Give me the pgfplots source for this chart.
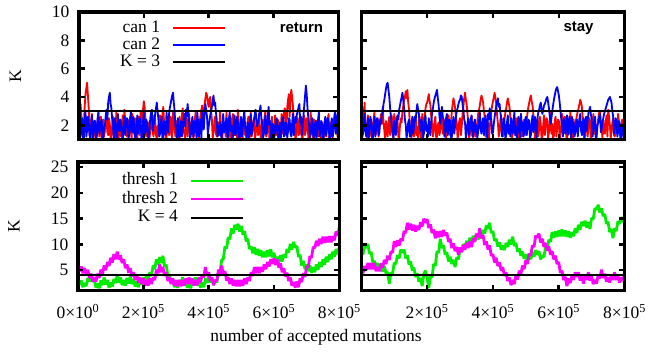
\documentclass[border=0pt]{standalone}
\usepackage{fontspec}
\setmainfont{Liberation Serif}
\newfontfamily\lsans{Liberation Sans}
\usepackage{pgfplots}
\usepackage{pgfplotstable}
\pgfplotsset{compat=1.18}
\newcommand\fs{\fontsize{17.5bp}{21bp}\selectfont}
\definecolor{cred}{rgb}{1,0,0}
\definecolor{cblue}{rgb}{0,0,1}
\definecolor{cgreen}{rgb}{0,0.93,0}
\definecolor{cmag}{rgb}{1,0,1}

% top-left (return): can 1, can 2  (step 2500)
\pgfplotstableread[row sep=\\]{y\\
2.5\\1.4\\3.5\\2.6\\1.2\\1.9\\2.0\\3.3\\4.2\\4.6\\5.0\\4.1\\3.2\\1.3\\1.5\\2.4\\2.8\\1.0\\1.1\\1.8\\
2.2\\1.1\\1.4\\2.3\\2.9\\1.2\\1.8\\2.6\\1.0\\1.7\\2.4\\1.2\\1.6\\2.2\\3.0\\1.5\\1.3\\2.5\\2.1\\1.0\\
1.1\\2.0\\2.6\\1.3\\1.9\\1.1\\2.9\\2.2\\1.5\\1.0\\2.3\\1.6\\1.2\\2.1\\2.7\\1.4\\3.1\\2.4\\1.8\\1.2\\
2.4\\1.5\\1.2\\2.6\\2.0\\1.1\\2.8\\1.7\\1.4\\2.5\\1.9\\1.0\\1.1\\2.2\\2.6\\1.3\\3.0\\2.7\\2.2\\3.1\\
3.7\\3.3\\2.5\\1.2\\1.3\\2.0\\2.2\\1.1\\1.6\\2.4\\2.9\\1.5\\1.2\\2.7\\2.4\\1.3\\1.0\\1.9\\2.0\\1.2\\
2.7\\1.4\\1.5\\2.8\\3.3\\2.2\\1.8\\1.0\\1.1\\2.1\\2.5\\1.3\\2.0\\2.6\\1.3\\1.1\\2.9\\2.3\\1.7\\1.2\\
2.3\\1.5\\1.0\\2.0\\2.6\\1.2\\1.9\\2.7\\3.2\\1.6\\1.4\\1.1\\2.1\\2.5\\1.2\\1.9\\2.8\\1.3\\1.6\\2.2\\
2.5\\1.1\\1.3\\2.4\\3.0\\1.5\\2.0\\1.2\\1.1\\2.3\\2.7\\3.1\\3.4\\2.8\\2.2\\3.5\\3.9\\4.3\\4.1\\3.6\\
3.3\\3.8\\4.0\\3.0\\2.4\\1.1\\1.5\\2.2\\2.6\\1.4\\1.2\\1.9\\2.2\\1.3\\3.0\\2.1\\1.4\\1.0\\2.5\\1.6\\
1.8\\1.2\\2.9\\2.0\\1.1\\1.7\\2.3\\1.0\\1.6\\2.5\\2.8\\1.4\\1.3\\2.2\\2.0\\1.1\\3.1\\2.4\\1.5\\1.1\\
2.4\\1.6\\1.1\\2.2\\2.7\\1.3\\1.8\\1.0\\2.2\\2.6\\1.0\\1.5\\2.9\\1.2\\1.6\\2.3\\2.5\\1.1\\1.3\\2.0\\
2.1\\1.3\\2.8\\2.1\\1.2\\1.0\\2.4\\1.5\\1.7\\2.6\\3.0\\1.2\\1.4\\2.0\\2.2\\1.1\\1.1\\1.8\\2.6\\1.4\\
1.9\\1.2\\2.7\\2.0\\1.3\\2.4\\2.3\\1.1\\1.0\\1.7\\2.8\\1.4\\2.1\\2.9\\3.2\\2.5\\1.5\\3.3\\3.8\\4.2\\
2.6\\3.9\\4.5\\4.0\\3.4\\2.3\\1.8\\1.1\\1.2\\2.2\\2.5\\1.3\\1.4\\2.4\\2.0\\1.0\\1.1\\1.9\\2.7\\1.3\\
1.6\\2.5\\2.3\\1.1\\1.2\\2.0\\2.9\\1.4\\1.8\\1.0\\2.4\\1.7\\1.3\\2.3\\2.1\\1.2\\2.6\\1.9\\1.5\\1.0\\
2.2\\1.3\\1.1\\2.0\\2.5\\1.2\\1.7\\2.4\\2.8\\1.1\\1.4\\2.2\\2.3\\1.0\\1.9\\2.6\\3.0\\1.5\\2.0\\1.2\\
2.8\\}\tlred
\pgfplotstableread[row sep=\\]{y\\
2.8\\1.7\\1.3\\2.2\\2.5\\1.0\\1.1\\2.4\\3.0\\1.2\\1.6\\2.6\\2.2\\1.3\\1.0\\2.0\\2.7\\1.1\\1.5\\2.3\\
2.3\\1.0\\1.2\\2.5\\2.9\\1.4\\1.7\\2.2\\2.4\\1.0\\1.1\\1.9\\2.0\\2.7\\3.1\\2.4\\3.6\\4.0\\4.3\\3.5\\
3.2\\2.4\\1.8\\1.1\\2.5\\2.0\\1.3\\1.0\\2.8\\1.9\\1.6\\2.4\\2.2\\1.2\\1.0\\1.8\\2.6\\1.3\\1.9\\2.5\\
2.4\\1.1\\1.3\\2.2\\3.0\\1.6\\1.5\\2.6\\2.1\\1.0\\1.1\\2.0\\2.7\\1.4\\1.8\\2.5\\2.3\\1.1\\1.2\\2.2\\
2.9\\1.3\\1.6\\2.4\\2.2\\1.2\\1.0\\1.8\\2.5\\2.9\\3.1\\1.6\\2.0\\2.3\\2.8\\3.2\\3.6\\3.0\\2.4\\1.2\\
1.4\\2.1\\2.6\\1.0\\1.2\\2.3\\2.0\\1.3\\2.9\\2.2\\1.5\\2.7\\3.2\\3.5\\3.8\\4.1\\4.3\\3.6\\3.0\\1.9\\
1.8\\1.1\\2.5\\1.7\\1.1\\2.0\\2.3\\1.2\\1.6\\2.4\\2.8\\1.9\\3.1\\2.6\\3.5\\2.9\\2.2\\1.0\\1.3\\2.1\\
2.6\\1.2\\1.5\\2.3\\2.0\\1.1\\2.9\\2.2\\1.2\\1.9\\2.4\\1.0\\2.9\\2.3\\1.7\\2.8\\3.5\\3.0\\2.6\\1.4\\
1.9\\2.3\\2.7\\3.0\\3.3\\3.8\\4.1\\3.4\\3.6\\2.9\\2.4\\1.2\\1.4\\2.0\\2.2\\1.3\\1.1\\2.1\\2.8\\1.5\\
1.6\\2.2\\2.5\\1.1\\1.3\\2.4\\2.9\\1.6\\2.0\\1.0\\1.2\\2.1\\2.7\\1.3\\1.5\\2.6\\2.3\\1.2\\1.0\\1.9\\
2.6\\1.2\\1.8\\2.5\\3.0\\1.9\\1.4\\1.0\\2.2\\2.0\\1.1\\2.3\\2.8\\1.3\\1.7\\2.1\\2.4\\2.8\\3.1\\2.0\\
1.9\\2.2\\2.6\\3.0\\3.4\\2.5\\2.1\\1.1\\1.3\\2.0\\2.7\\1.4\\1.6\\2.6\\3.3\\2.0\\2.3\\1.0\\1.2\\2.1\\
2.0\\1.1\\1.5\\2.3\\2.5\\1.4\\1.1\\1.9\\2.2\\1.0\\1.7\\2.4\\2.6\\1.2\\1.3\\2.2\\2.0\\1.1\\1.6\\2.5\\
2.4\\1.4\\1.2\\2.1\\2.8\\1.3\\1.8\\2.6\\2.2\\2.8\\3.0\\3.3\\3.5\\2.2\\2.6\\1.3\\1.9\\2.7\\3.4\\4.1\\
4.8\\4.2\\3.2\\2.5\\2.0\\1.1\\1.4\\2.2\\2.5\\1.3\\1.1\\2.0\\2.3\\1.0\\1.7\\2.4\\2.9\\1.2\\1.5\\2.3\\
2.1\\1.0\\1.2\\2.2\\2.6\\1.3\\1.8\\2.5\\2.2\\1.1\\1.0\\1.9\\2.5\\1.2\\1.6\\2.3\\2.9\\1.4\\2.4\\2.7\\
3.0\\}\tlblue
% top-right (stay)
\pgfplotstableread[row sep=\\]{y\\
2.4\\2.9\\3.2\\2.5\\3.6\\2.0\\1.5\\1.1\\2.7\\1.9\\1.2\\2.4\\2.2\\1.0\\1.8\\2.5\\2.9\\1.3\\1.4\\2.1\\
2.5\\1.2\\1.9\\2.4\\2.8\\2.1\\3.3\\2.2\\1.6\\1.0\\2.3\\1.5\\1.2\\2.2\\2.6\\1.3\\2.0\\2.7\\1.4\\1.1\\
2.8\\1.4\\1.7\\2.6\\2.3\\1.2\\1.1\\2.0\\2.5\\2.2\\3.0\\3.4\\3.8\\4.0\\4.4\\3.9\\4.5\\3.6\\3.1\\2.0\\
1.6\\1.1\\2.4\\1.5\\1.2\\2.2\\2.7\\1.3\\1.9\\1.0\\2.3\\2.6\\1.3\\1.0\\2.8\\1.6\\2.0\\2.6\\3.2\\3.5\\
3.6\\3.9\\4.2\\3.7\\3.4\\2.6\\2.1\\1.2\\1.5\\2.3\\2.6\\1.1\\1.2\\2.0\\2.2\\1.3\\1.7\\2.5\\2.9\\1.4\\
1.4\\1.9\\2.4\\1.1\\1.8\\2.3\\2.7\\1.4\\1.3\\2.2\\3.0\\3.5\\3.9\\3.6\\3.2\\2.6\\2.2\\1.0\\1.6\\2.3\\
2.5\\1.3\\1.9\\2.8\\3.3\\3.9\\4.3\\3.8\\3.5\\2.8\\2.0\\1.1\\1.4\\2.2\\2.6\\1.5\\1.1\\1.8\\2.3\\1.2\\
1.7\\2.3\\2.8\\3.1\\3.4\\3.8\\4.1\\3.9\\3.6\\3.0\\2.5\\1.2\\1.3\\2.0\\2.2\\1.0\\1.8\\2.4\\3.0\\3.4\\
3.7\\4.0\\4.3\\3.9\\3.5\\2.7\\2.1\\1.2\\1.5\\2.4\\2.7\\1.3\\1.2\\2.0\\2.4\\2.9\\3.2\\3.6\\3.9\\3.6\\
3.3\\2.6\\2.0\\1.1\\1.4\\2.2\\2.6\\1.3\\1.8\\2.5\\2.3\\1.0\\1.1\\1.9\\2.8\\1.2\\1.6\\2.3\\2.4\\1.3\\
1.9\\2.4\\2.9\\3.3\\3.6\\3.9\\4.1\\3.7\\3.4\\2.8\\2.2\\1.0\\1.3\\2.0\\2.5\\1.2\\1.7\\2.6\\2.1\\1.1\\
1.2\\2.0\\2.7\\1.3\\1.9\\2.5\\2.4\\1.1\\1.5\\2.2\\2.9\\1.4\\2.1\\1.0\\1.3\\2.3\\2.6\\1.2\\1.8\\2.4\\
2.3\\1.0\\1.4\\2.1\\2.8\\1.3\\1.7\\2.6\\2.5\\1.2\\1.1\\2.0\\2.2\\1.4\\2.9\\2.2\\1.6\\1.1\\2.4\\1.5\\
1.9\\2.4\\2.7\\3.0\\3.2\\3.5\\3.8\\3.6\\3.3\\2.5\\2.0\\1.1\\1.3\\2.2\\2.6\\1.2\\1.8\\2.5\\2.3\\1.0\\
1.5\\2.3\\2.8\\1.4\\2.1\\1.0\\1.2\\2.2\\2.5\\2.9\\3.0\\2.1\\1.7\\1.1\\2.4\\1.6\\1.4\\2.3\\2.7\\1.2\\
3.1\\2.6\\2.0\\1.1\\1.6\\2.2\\2.5\\1.3\\1.2\\2.0\\2.3\\1.4\\2.8\\2.2\\1.5\\1.0\\2.1\\2.4\\1.3\\1.6\\
2.0\\}\trred
\pgfplotstableread[row sep=\\]{y\\
2.2\\1.1\\1.4\\2.3\\2.8\\1.5\\1.2\\2.0\\2.5\\1.1\\1.7\\2.6\\2.3\\1.3\\1.1\\1.9\\2.6\\1.2\\1.8\\2.5\\
2.4\\1.3\\1.5\\2.4\\2.1\\2.7\\3.0\\3.5\\3.8\\4.2\\4.6\\4.9\\5.0\\4.5\\4.0\\3.2\\2.6\\1.9\\1.6\\1.1\\
2.3\\1.8\\1.3\\2.2\\2.7\\2.4\\3.1\\3.4\\3.7\\4.0\\4.3\\3.8\\3.2\\2.4\\2.0\\1.1\\1.5\\2.2\\2.4\\1.2\\
1.2\\2.1\\2.6\\1.4\\1.9\\2.6\\2.3\\3.0\\3.5\\3.1\\2.8\\1.9\\1.6\\2.4\\2.2\\1.1\\1.4\\2.3\\2.7\\1.6\\
2.0\\1.2\\2.5\\1.9\\1.3\\2.2\\2.9\\3.2\\3.6\\3.9\\4.1\\4.3\\4.5\\3.9\\3.4\\2.6\\2.1\\2.8\\3.3\\2.6\\
2.4\\1.2\\1.5\\2.5\\2.8\\1.3\\1.7\\2.4\\2.3\\1.0\\1.2\\2.1\\2.6\\1.4\\2.0\\2.6\\3.0\\3.2\\3.5\\3.7\\
3.8\\4.1\\4.0\\3.5\\3.1\\2.4\\2.2\\1.1\\1.4\\2.1\\2.5\\1.3\\1.8\\2.4\\2.7\\1.2\\1.3\\2.2\\2.4\\1.5\\
2.0\\1.1\\1.6\\2.3\\2.9\\1.7\\1.4\\2.2\\2.5\\1.3\\2.1\\2.7\\1.7\\1.1\\2.8\\2.4\\3.2\\2.7\\2.3\\1.4\\
1.5\\2.1\\2.6\\3.0\\3.4\\3.7\\3.9\\3.3\\3.5\\2.9\\2.4\\1.2\\1.8\\2.5\\2.2\\1.0\\1.3\\2.2\\2.7\\1.4\\
2.0\\1.2\\2.5\\1.9\\1.4\\2.4\\2.9\\1.3\\1.9\\1.0\\2.3\\2.6\\1.6\\1.1\\2.8\\1.7\\2.2\\1.2\\1.5\\2.4\\
2.6\\1.3\\1.8\\2.4\\2.3\\1.1\\1.3\\2.2\\2.7\\1.5\\2.0\\2.6\\1.6\\1.1\\2.5\\2.9\\3.1\\3.4\\3.6\\3.1\\
2.8\\3.1\\3.4\\3.5\\3.7\\3.9\\4.0\\3.6\\3.2\\2.6\\2.1\\2.5\\3.0\\3.4\\3.8\\4.1\\4.4\\4.6\\4.7\\4.4\\
4.1\\3.6\\3.0\\2.4\\1.9\\1.2\\2.5\\1.8\\1.4\\2.3\\2.7\\1.3\\2.0\\2.6\\1.7\\1.1\\2.6\\1.5\\2.2\\1.2\\
1.5\\2.2\\2.4\\1.2\\1.9\\2.5\\2.8\\1.6\\1.3\\2.2\\2.5\\1.1\\2.1\\2.6\\1.6\\2.3\\2.9\\3.1\\3.3\\2.7\\
2.4\\1.2\\1.8\\2.3\\2.6\\1.1\\1.4\\2.0\\2.2\\2.6\\2.8\\1.5\\1.7\\2.3\\2.5\\2.8\\3.0\\3.2\\3.4\\3.6\\
3.8\\3.9\\4.0\\3.8\\3.6\\3.0\\2.6\\1.4\\1.9\\2.5\\2.3\\1.2\\1.5\\2.3\\2.1\\1.0\\1.2\\2.0\\1.8\\1.1\\
2.3\\}\trblue
% bottom-left (return): thresh 1, thresh 2  (step 5000)
\pgfplotstableread[row sep=\\]{y\\
3.4\\2.2\\3.0\\1.7\\2.5\\1.9\\3.5\\2.8\\4.3\\2.7\\
3.3\\1.6\\2.4\\1.5\\3.0\\2.1\\3.6\\2.2\\3.1\\1.6\\
2.6\\1.8\\3.3\\2.5\\4.1\\2.6\\3.6\\2.1\\3.1\\2.0\\
3.5\\2.4\\3.8\\2.3\\3.3\\1.8\\2.8\\1.7\\3.2\\2.2\\
3.6\\2.6\\4.1\\3.1\\4.6\\3.9\\5.9\\5.2\\7.1\\6.0\\
7.5\\6.4\\7.8\\5.7\\6.1\\3.9\\4.1\\2.5\\3.3\\1.7\\
2.6\\1.6\\3.1\\2.1\\3.6\\2.0\\3.1\\1.6\\2.6\\1.5\\
3.1\\2.1\\3.6\\2.0\\3.1\\1.6\\2.6\\1.7\\3.4\\2.5\\
4.1\\2.6\\3.6\\2.1\\3.1\\2.6\\4.5\\4.8\\7.0\\7.2\\
9.6\\9.2\\11.4\\11.0\\13.1\\12.1\\13.8\\12.9\\14.0\\12.5\\
13.6\\11.9\\12.6\\10.6\\11.1\\9.1\\9.6\\8.3\\9.4\\8.0\\
9.1\\7.8\\8.9\\7.5\\8.6\\7.5\\8.9\\7.7\\9.1\\7.5\\
8.4\\6.8\\7.6\\6.5\\7.9\\6.7\\8.1\\7.4\\9.1\\8.4\\
10.1\\9.0\\10.5\\9.4\\9.7\\7.6\\8.0\\5.9\\6.8\\5.2\\
6.1\\4.8\\5.9\\4.5\\5.6\\4.6\\6.1\\5.1\\6.6\\5.6\\
7.1\\6.1\\7.6\\6.6\\8.1\\7.1\\8.6\\7.6\\9.1\\8.1\\
9.6\\}\blgreen
\pgfplotstableread[row sep=\\]{y\\
5.9\\4.8\\5.7\\4.4\\5.4\\4.1\\5.1\\3.5\\4.3\\2.8\\
3.6\\2.8\\4.3\\3.5\\5.1\\4.3\\5.9\\5.0\\6.6\\5.8\\
7.4\\6.5\\8.1\\7.1\\8.6\\7.1\\7.9\\6.4\\7.1\\5.4\\
6.1\\4.5\\5.4\\3.8\\4.6\\3.1\\4.1\\2.6\\3.6\\2.3\\
3.4\\2.0\\3.1\\2.0\\3.4\\2.3\\3.6\\3.1\\5.1\\4.4\\
6.1\\4.6\\5.6\\3.9\\4.6\\2.9\\3.6\\2.3\\3.4\\2.0\\
3.1\\1.9\\3.1\\1.9\\3.1\\2.0\\3.4\\2.3\\3.6\\2.3\\
3.4\\2.0\\3.1\\2.1\\3.6\\2.6\\4.1\\3.6\\5.6\\3.9\\
4.6\\2.9\\3.6\\2.1\\3.1\\2.9\\5.1\\4.3\\5.9\\4.1\\
4.8\\3.0\\3.6\\2.3\\3.4\\2.0\\3.1\\1.9\\3.1\\1.9\\
3.1\\2.0\\3.4\\2.3\\3.6\\2.9\\4.6\\3.9\\5.6\\4.4\\
5.6\\4.4\\5.6\\4.7\\6.1\\5.2\\6.6\\5.7\\7.1\\6.2\\
7.3\\6.0\\7.1\\5.5\\6.3\\4.6\\5.4\\3.8\\4.5\\2.9\\
3.6\\2.0\\2.7\\1.6\\2.8\\1.7\\3.4\\2.7\\4.4\\3.7\\
5.8\\5.5\\7.7\\7.4\\9.5\\9.3\\10.7\\9.7\\11.1\\10.1\\
11.5\\10.3\\11.5\\10.4\\11.6\\10.4\\11.6\\10.8\\12.5\\11.7\\
13.3\\}\blmag
% bottom-right (stay)
\pgfplotstableread[row sep=\\]{y\\
8.5\\8.0\\9.8\\9.3\\10.1\\8.2\\8.5\\6.5\\6.8\\5.4\\
6.4\\5.1\\6.1\\4.7\\5.8\\4.4\\4.6\\2.4\\4.5\\4.3\\
6.4\\6.2\\7.9\\7.3\\9.0\\8.4\\9.0\\7.3\\7.9\\6.1\\
6.7\\4.9\\5.5\\3.7\\4.4\\2.8\\3.5\\1.9\\4.3\\4.9\\
3.6\\1.5\\3.8\\3.6\\6.2\\5.9\\8.6\\8.4\\11.1\\9.3\\
9.8\\8.0\\8.5\\6.7\\7.6\\6.2\\7.0\\5.6\\7.5\\7.1\\
9.0\\8.6\\10.1\\9.2\\10.7\\9.8\\11.3\\10.4\\11.7\\10.7\\
12.0\\10.9\\12.3\\11.2\\12.8\\12.1\\13.7\\13.0\\14.2\\12.2\\
12.6\\10.7\\11.1\\9.6\\10.4\\9.0\\9.8\\8.9\\10.3\\9.5\\
10.9\\10.0\\11.5\\9.7\\10.3\\8.6\\9.2\\7.8\\8.6\\7.2\\
8.1\\6.7\\8.1\\7.1\\8.5\\7.6\\8.9\\8.0\\8.7\\7.1\\
7.9\\7.5\\9.4\\9.0\\10.9\\10.5\\12.4\\11.3\\12.5\\11.5\\
12.7\\11.6\\12.9\\11.6\\12.7\\11.5\\12.5\\11.3\\12.4\\11.6\\
13.1\\12.2\\13.8\\12.9\\14.4\\13.6\\14.6\\13.3\\14.3\\13.0\\
15.1\\14.9\\17.0\\16.8\\17.7\\16.2\\17.0\\15.5\\15.9\\14.0\\
14.4\\12.4\\13.0\\11.2\\13.1\\12.6\\14.5\\14.0\\15.3\\14.3\\
15.6\\}\brgreen
\pgfplotstableread[row sep=\\]{y\\
5.0\\4.4\\5.8\\5.0\\6.4\\5.2\\6.4\\5.2\\6.4\\4.8\\
5.6\\4.8\\6.3\\5.5\\7.0\\6.2\\7.8\\7.0\\8.6\\8.4\\
10.6\\9.5\\10.8\\9.8\\11.1\\10.7\\12.6\\12.2\\14.2\\12.9\\
14.0\\12.7\\13.8\\12.5\\13.6\\12.8\\14.3\\13.5\\15.0\\14.2\\
14.9\\13.2\\13.9\\12.2\\12.9\\11.2\\12.5\\11.4\\12.6\\11.5\\
12.8\\11.7\\12.3\\10.5\\11.1\\9.3\\10.2\\8.7\\9.5\\8.0\\
9.4\\8.5\\9.9\\9.0\\10.3\\9.3\\10.6\\9.5\\11.2\\10.5\\
12.1\\11.4\\13.1\\11.2\\11.8\\9.9\\10.6\\9.0\\9.8\\7.8\\
8.1\\6.5\\7.4\\5.8\\6.5\\4.9\\5.6\\3.9\\4.6\\2.9\\
3.6\\2.1\\3.1\\2.3\\4.0\\3.2\\4.9\\4.2\\5.9\\5.2\\
6.9\\6.2\\8.2\\7.8\\9.8\\9.5\\11.7\\11.4\\12.1\\10.4\\
11.1\\9.5\\10.3\\8.8\\9.6\\8.0\\8.7\\7.1\\7.8\\6.2\\
6.6\\4.5\\4.9\\3.1\\3.7\\1.9\\3.4\\2.5\\4.0\\3.1\\
4.6\\3.7\\4.6\\3.0\\3.9\\2.4\\3.9\\3.1\\4.6\\3.0\\
3.8\\2.3\\3.1\\2.4\\4.1\\3.4\\5.1\\3.5\\4.3\\2.8\\
3.6\\2.6\\4.1\\3.1\\4.6\\3.1\\4.1\\2.6\\3.6\\2.9\\
4.6\\}\brmag

\pgfplotsset{
  panel/.style={
    scale only axis, axis on top,
    xmin=0, xmax=800000, scaled x ticks=false,
    xtick={0,200000,400000,600000,800000},
    axis line style={line width=3.2bp},
    tick style={black, line width=2.6bp},
    major tick length=5.5bp,
    tick label style={font=\fs},
    label style={font=\fs},
    xticklabel style={yshift=-10bp},
    yticklabel style={xshift=-6bp},
    /pgf/number format/assume math mode=true,
    legend style={draw=none, fill=none, inner sep=0pt, font=\fs,
      /tikz/column sep=12bp,
      nodes={inner sep=0.5bp, text height=12bp, text depth=4bp}},
    legend plot pos=right,
    legend cell align=right,
    legend image code/.code={\draw[##1, line width=1.8bp] (0bp,0bp) -- (52bp,0bp);},
  },
  toprow/.style={ymin=1, ymax=10, ytick={2,4,6,8,10}, height=127.4bp, xticklabels=\empty},
  botrow/.style={ymin=1, ymax=26, ytick={5,10,15,20,25}, height=128.8bp},
}

\begin{document}
\begin{tikzpicture}
% ---------- top left ----------
\begin{axis}[panel, toprow, at={(79bp,212.6bp)}, anchor=south west, width=259.3bp,
  ylabel={K}, ylabel style={at={(axis description cs:-0.245,0.5)}, anchor=center},
  legend style={at={(axis description cs:0.569,0.941)}, anchor=north east}]
\addplot[cred, line width=1.8bp, line join=round] table[x expr=\coordindex*2500, y=y] {\tlred};
\addlegendentry{can 1}
\addplot[cblue, line width=1.8bp, line join=round] table[x expr=\coordindex*2500, y=y] {\tlblue};
\addlegendentry{can 2}
\addplot[black, line width=2bp] coordinates {(0,3) (800000,3)};
\addlegendentry{K = 3}
\node[anchor=east, font=\lsans\bfseries\fontsize{15bp}{18bp}\selectfont] at (axis description cs:0.955,0.874) {return};
\end{axis}
% ---------- top right ----------
\begin{axis}[panel, toprow, at={(361.3bp,212.6bp)}, anchor=south west, width=263.4bp,
  yticklabels=\empty]
\addplot[cred, line width=1.8bp, line join=round] table[x expr=\coordindex*2500, y=y] {\trred};
\addplot[cblue, line width=1.8bp, line join=round] table[x expr=\coordindex*2500, y=y] {\trblue};
\addplot[black, line width=2bp] coordinates {(0,3) (800000,3)};
\node[anchor=east, font=\lsans\bfseries\fontsize{15bp}{18bp}\selectfont] at (axis description cs:0.895,0.874) {stay};
\end{axis}
% ---------- bottom left ----------
\begin{axis}[panel, botrow, at={(78bp,61.2bp)}, anchor=south west, width=261.3bp,
  xticklabels={0×10\textsuperscript{0}, 2×10\textsuperscript{5}, 4×10\textsuperscript{5}, 6×10\textsuperscript{5}, 8×10\textsuperscript{5}},
  ylabel={K}, ylabel style={at={(axis description cs:-0.245,0.5)}, anchor=center},
  xlabel={number of accepted mutations},
  xlabel style={at={(axis description cs:0.911,-0.359)}, anchor=center},
  legend style={at={(axis description cs:0.637,0.922)}, anchor=north east, row sep=1.5bp}]
\addplot[cgreen, line width=2.8bp, line join=bevel] table[x expr=\coordindex*5000, y=y] {\blgreen};
\addlegendentry{thresh 1}
\addplot[cmag, line width=2.8bp, line join=bevel] table[x expr=\coordindex*5000, y=y] {\blmag};
\addlegendentry{thresh 2}
\addplot[black, line width=2bp] coordinates {(0,4) (800000,4)};
\addlegendentry{K = 4}
\end{axis}
% ---------- bottom right ----------
\begin{axis}[panel, botrow, at={(361.3bp,61.2bp)}, anchor=south west, width=263.2bp,
  yticklabels=\empty,
  xticklabels={{}, 2×10\textsuperscript{5}, 4×10\textsuperscript{5}, 6×10\textsuperscript{5}, 8×10\textsuperscript{5}}]
\addplot[cgreen, line width=2.8bp, line join=bevel] table[x expr=\coordindex*5000, y=y] {\brgreen};
\addplot[cmag, line width=2.8bp, line join=bevel] table[x expr=\coordindex*5000, y=y] {\brmag};
\addplot[black, line width=2bp] coordinates {(0,4) (800000,4)};
\end{axis}
\pgfresetboundingbox
\path[use as bounding box] (0bp,0bp) rectangle (648bp,352bp);
\end{tikzpicture}
\end{document}
